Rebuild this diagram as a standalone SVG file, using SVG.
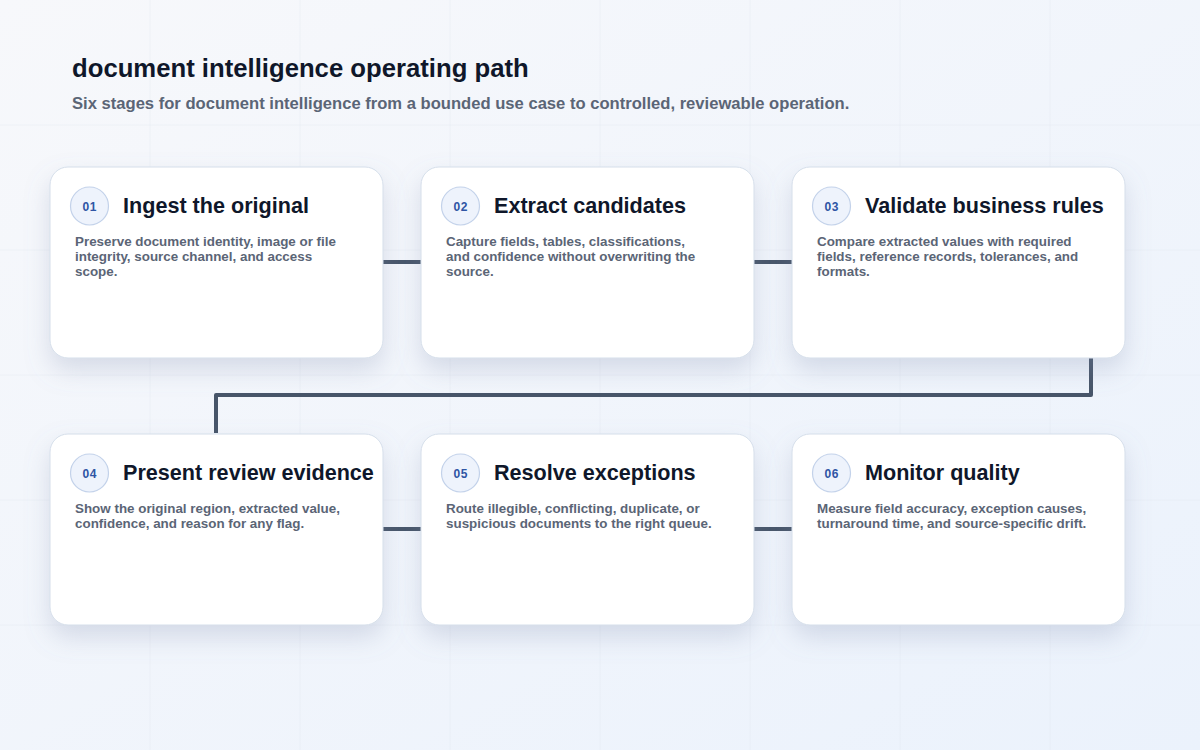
<svg xmlns="http://www.w3.org/2000/svg" width="1200" height="750" viewBox="0 0 1200 750">
  <defs>
    <linearGradient id="bg" x1="0" y1="0" x2="1" y2="1">
      <stop offset="0" stop-color="#f7f8fb"/>
      <stop offset="1" stop-color="#ebf2fc"/>
    </linearGradient>
    <filter id="shadow" x="-20%" y="-20%" width="140%" height="160%">
      <feDropShadow dx="0" dy="12" stdDeviation="12" flood-color="#7a8aab" flood-opacity="0.25"/>
    </filter>
    <style>
      .grid { stroke: #dfe5ee; stroke-width: 1; opacity: 0.35; }
      .card { fill: #ffffff; stroke: #d5deea; stroke-width: 1; filter: url(#shadow); }
      .badge { fill: #eef3fc; stroke: #c3d2ea; stroke-width: 1.2; }
      .num { font-family: "Liberation Sans", Arial, sans-serif; font-size: 12px; font-weight: 700; fill: #2f55a4; text-anchor: middle; letter-spacing: 0.6px; }
      .title { font-family: "Liberation Sans", Arial, sans-serif; font-size: 21.6px; font-weight: 700; fill: #0f172a; }
      .body { font-family: "Liberation Sans", Arial, sans-serif; font-size: 13.4px; font-weight: 700; fill: #5b6576; }
      .conn { fill: none; stroke: #475569; stroke-width: 4; stroke-linejoin: round; }
      .h1 { font-family: "Liberation Sans", Arial, sans-serif; font-size: 25.7px; font-weight: 700; fill: #0f172a; }
      .sub { font-family: "Liberation Sans", Arial, sans-serif; font-size: 16.6px; font-weight: 700; fill: #5b6576; }
    </style>
  </defs>
  <rect x="0" y="0" width="1200" height="750" fill="url(#bg)"/>
  <g id="grid">
    <line class="grid" x1="150" y1="0" x2="150" y2="750"/>
    <line class="grid" x1="300" y1="0" x2="300" y2="750"/>
    <line class="grid" x1="450" y1="0" x2="450" y2="750"/>
    <line class="grid" x1="600" y1="0" x2="600" y2="750"/>
    <line class="grid" x1="750" y1="0" x2="750" y2="750"/>
    <line class="grid" x1="900" y1="0" x2="900" y2="750"/>
    <line class="grid" x1="1050" y1="0" x2="1050" y2="750"/>
    <line class="grid" x1="0" y1="125" x2="1200" y2="125"/>
    <line class="grid" x1="0" y1="250" x2="1200" y2="250"/>
    <line class="grid" x1="0" y1="375" x2="1200" y2="375"/>
    <line class="grid" x1="0" y1="500" x2="1200" y2="500"/>
    <line class="grid" x1="0" y1="625" x2="1200" y2="625"/>
  </g>
  <g id="header">
    <text class="h1" x="72" y="77">document intelligence operating path</text>
    <text class="sub" x="72" y="109">Six stages for document intelligence from a bounded use case to controlled, reviewable operation.</text>
  </g>
  <g id="connectors">
    <line class="conn" x1="383" y1="262" x2="421" y2="262"/>
    <line class="conn" x1="754" y1="262" x2="792" y2="262"/>
    <path class="conn" d="M1091 358 V395 H216 V433"/>
    <line class="conn" x1="383" y1="529" x2="421" y2="529"/>
    <line class="conn" x1="754" y1="529" x2="792" y2="529"/>
  </g>
  <g id="node-01">
    <rect class="card" x="50" y="167" width="333" height="191" rx="18"/>
    <circle class="badge" cx="89.5" cy="206" r="19"/>
    <text class="num" x="89.8" y="210.5">01</text>
    <text class="title" x="123" y="213">Ingest the original</text>
    <text class="body" x="75" y="246">Preserve document identity, image or file</text>
    <text class="body" x="75" y="261">integrity, source channel, and access</text>
    <text class="body" x="75" y="276">scope.</text>
  </g>
  <g id="node-02">
    <rect class="card" x="421" y="167" width="333" height="191" rx="18"/>
    <circle class="badge" cx="460.5" cy="206" r="19"/>
    <text class="num" x="460.8" y="210.5">02</text>
    <text class="title" x="494" y="213">Extract candidates</text>
    <text class="body" x="446" y="246">Capture fields, tables, classifications,</text>
    <text class="body" x="446" y="261">and confidence without overwriting the</text>
    <text class="body" x="446" y="276">source.</text>
  </g>
  <g id="node-03">
    <rect class="card" x="792" y="167" width="333" height="191" rx="18"/>
    <circle class="badge" cx="831.5" cy="206" r="19"/>
    <text class="num" x="831.8" y="210.5">03</text>
    <text class="title" x="865" y="213">Validate business rules</text>
    <text class="body" x="817" y="246">Compare extracted values with required</text>
    <text class="body" x="817" y="261">fields, reference records, tolerances, and</text>
    <text class="body" x="817" y="276">formats.</text>
  </g>
  <g id="node-04">
    <rect class="card" x="50" y="434" width="333" height="191" rx="18"/>
    <circle class="badge" cx="89.5" cy="473" r="19"/>
    <text class="num" x="89.8" y="477.5">04</text>
    <text class="title" x="123" y="480">Present review evidence</text>
    <text class="body" x="75" y="513">Show the original region, extracted value,</text>
    <text class="body" x="75" y="528">confidence, and reason for any flag.</text>
  </g>
  <g id="node-05">
    <rect class="card" x="421" y="434" width="333" height="191" rx="18"/>
    <circle class="badge" cx="460.5" cy="473" r="19"/>
    <text class="num" x="460.8" y="477.5">05</text>
    <text class="title" x="494" y="480">Resolve exceptions</text>
    <text class="body" x="446" y="513">Route illegible, conflicting, duplicate, or</text>
    <text class="body" x="446" y="528">suspicious documents to the right queue.</text>
  </g>
  <g id="node-06">
    <rect class="card" x="792" y="434" width="333" height="191" rx="18"/>
    <circle class="badge" cx="831.5" cy="473" r="19"/>
    <text class="num" x="831.8" y="477.5">06</text>
    <text class="title" x="865" y="480">Monitor quality</text>
    <text class="body" x="817" y="513">Measure field accuracy, exception causes,</text>
    <text class="body" x="817" y="528">turnaround time, and source-specific drift.</text>
  </g>
</svg>
